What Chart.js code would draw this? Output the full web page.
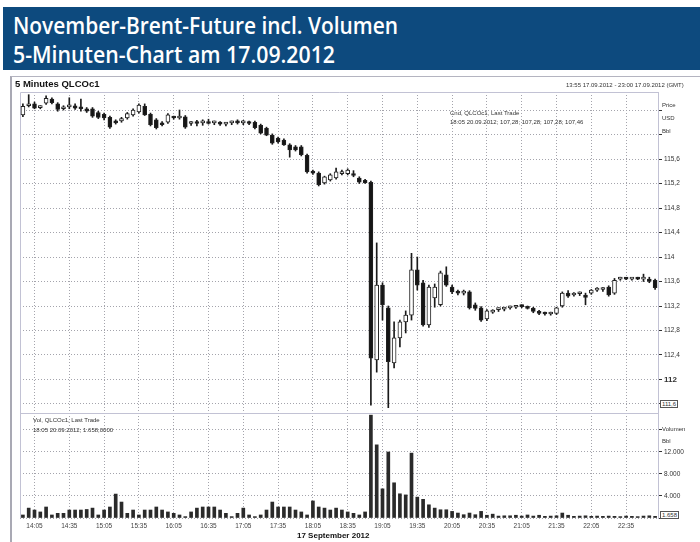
<!DOCTYPE html>
<html><head><meta charset="utf-8">
<script src="https://cdn.jsdelivr.net/npm/chart.js@4"></script>
<style>
html,body{margin:0;padding:0;}
body{width:700px;height:542px;overflow:hidden;background:#fff;position:relative;font-family:"Liberation Sans",Arial,sans-serif;color:#222;}
#hdr{position:absolute;left:3px;top:7px;width:697px;height:63px;background:#0d4a7e;}
.h{position:absolute;left:13px;color:#fff;font-family:"Open Sans",sans-serif;font-weight:600;font-size:24px;line-height:24px;white-space:nowrap;transform-origin:0 0;}
#frame{position:absolute;left:10px;top:76px;width:690px;height:466px;border-left:2px solid #a9a9b4;border-top:1px solid #b4b4c0;}
#c{position:absolute;left:0;top:72px;}
.t{position:absolute;white-space:nowrap;line-height:1;}
.s{font-size:6px;color:#333;}
.box{border:1px solid #555;padding:0 1px;background:#fff;}
</style></head>
<body>
<div id="hdr"></div>
<div class="h" id="h1" style="top:13px">November-Brent-Future incl. Volumen</div>
<div class="h" id="h2" style="top:42px">5-Minuten-Chart am 17.09.2012</div>
<div id="frame"></div>
<canvas id="c" width="700" height="470"></canvas>
<div class="t" style="left:15px;top:79px;font-size:9.5px;font-weight:bold;color:#111">5 Minutes QLCOc1</div>
<div class="t s" style="left:566px;top:82px">13:55 17.09.2012 - 23:00 17.09.2012 (GMT)</div>
<div class="t s" style="left:450px;top:110px">Cnd, QLCOc1, Last Trade</div>
<div class="t s" style="left:450px;top:119px">18:05 20.09.2012; 107,28; 107,28; 107,28; 107,46</div>
<div class="t s" style="left:662px;top:102px">Price</div>
<div class="t s" style="left:662px;top:115px">USD</div>
<div class="t s" style="left:662px;top:128px">Bbl</div>
<div class="t s box" style="left:660px;top:400px">111,6</div>
<div class="t s" style="left:33px;top:417px">Vol, QLCOc1, Last Trade</div>
<div class="t s" style="left:33px;top:427px">18:05 20.09.2012; 1.658,0000</div>
<div class="t s" style="left:662px;top:426px">Volumen</div>
<div class="t s" style="left:662px;top:438px">Bbl</div>
<div class="t s box" style="left:660px;top:511px">1.658</div>
<div class="t" id="date" style="left:297px;top:532px;font-size:8px;font-weight:bold;color:#111">17 September 2012</div>
<script>
const times = ["13:55","14:00","14:05","14:10","14:15","14:20","14:25","14:30","14:35","14:40","14:45","14:50","14:55",
"15:00","15:05","15:10","15:15","15:20","15:25","15:30","15:35","15:40","15:45","15:50","15:55",
"16:00","16:05","16:10","16:15","16:20","16:25","16:30","16:35","16:40","16:45","16:50","16:55",
"17:00","17:05","17:10","17:15","17:20","17:25","17:30","17:35","17:40","17:45","17:50","17:55",
"18:00","18:05","18:10","18:15","18:20","18:25","18:30","18:35","18:40","18:45","18:50","18:55",
"19:00","19:05","19:10","19:15","19:20","19:25","19:30","19:35","19:40","19:45","19:50","19:55",
"20:00","20:05","20:10","20:15","20:20","20:25","20:30","20:35","20:40","20:45","20:50","20:55",
"21:00","21:05","21:10","21:15","21:20","21:25","21:30","21:35","21:40","21:45","21:50","21:55",
"22:00","22:05","22:10","22:15","22:20","22:25","22:30","22:35","22:40","22:45","22:50","22:55","23:00"];

const opens = [116.32,116.47,116.50,116.44,116.51,116.58,116.50,116.42,116.45,116.47,
116.44,116.42,116.42,116.36,116.33,116.28,116.20,116.22,116.27,116.32,
116.37,116.46,116.33,116.24,116.18,116.20,116.28,116.27,116.29,116.18,
116.20,116.19,116.20,116.19,116.18,116.17,116.19,116.20,116.19,116.20,
116.20,116.15,116.10,115.99,115.94,115.91,115.83,115.80,115.80,115.66,
115.39,115.37,115.21,115.26,115.29,115.36,115.36,115.35,115.29,115.25,
115.22,112.32,113.54,113.17,112.27,112.68,112.94,113.05,113.79,113.58,
112.89,113.33,113.22,113.71,113.51,113.43,113.41,113.43,113.22,113.17,
112.99,113.10,113.14,113.15,113.17,113.18,113.20,113.18,113.16,113.11,
113.08,113.07,113.08,113.20,113.41,113.38,113.40,113.38,113.41,113.46,
113.47,113.51,113.41,113.64,113.65,113.64,113.65,113.64,113.64,113.62];
const highs = [116.50,116.65,116.53,116.47,116.63,116.60,116.52,116.47,116.60,116.50,
116.58,116.44,116.44,116.38,116.35,116.30,116.24,116.28,116.36,116.42,
116.50,116.50,116.35,116.26,116.21,116.34,116.30,116.40,116.31,116.21,
116.23,116.24,116.25,116.22,116.21,116.20,116.22,116.24,116.23,116.22,
116.22,116.17,116.12,116.01,115.96,115.93,115.85,115.82,115.82,115.68,
115.42,115.39,115.32,115.36,115.45,115.42,115.44,115.41,115.31,115.27,
115.24,114.23,113.58,113.20,112.94,112.97,113.12,114.06,114.00,113.62,
113.54,113.56,113.77,113.84,113.54,113.46,113.46,113.45,113.25,113.19,
113.14,113.14,113.17,113.18,113.20,113.21,113.22,113.20,113.18,113.13,
113.10,113.10,113.18,113.43,113.45,113.42,113.43,113.41,113.47,113.50,
113.50,113.53,113.65,113.67,113.67,113.66,113.67,113.72,113.67,113.64];
const lows = [116.29,116.45,116.42,116.42,116.49,116.50,116.38,116.40,116.42,116.41,
116.38,116.36,116.28,116.26,116.24,116.10,116.17,116.20,116.25,116.30,
116.35,116.31,116.14,116.09,116.14,116.18,116.25,116.25,116.10,116.15,
116.14,116.15,116.17,116.16,116.15,116.14,116.16,116.17,116.16,116.16,
116.09,116.01,115.98,115.84,115.86,115.82,115.63,115.73,115.65,115.37,
115.35,115.16,115.19,115.24,115.27,115.34,115.34,115.31,115.20,115.20,
111.58,112.12,112.97,111.54,112.19,112.53,112.76,112.97,113.46,112.87,
112.85,113.18,113.20,113.52,113.40,113.38,113.38,113.15,113.13,112.95,
112.96,113.08,113.11,113.12,113.15,113.16,113.17,113.15,113.09,113.06,
113.05,113.05,113.06,113.18,113.34,113.36,113.37,113.22,113.39,113.44,
113.44,113.36,113.39,113.62,113.63,113.62,113.63,113.60,113.58,113.47];
const closes = [116.46,116.50,116.43,116.45,116.59,116.52,116.41,116.44,116.47,116.43,
116.42,116.38,116.30,116.28,116.27,116.12,116.19,116.26,116.34,116.40,
116.48,116.32,116.16,116.11,116.16,116.32,116.27,116.29,116.12,116.20,
116.18,116.20,116.18,116.20,116.17,116.18,116.20,116.19,116.21,116.18,
116.11,116.02,115.99,115.86,115.88,115.83,115.75,115.75,115.67,115.39,
115.37,115.18,115.31,115.34,115.39,115.39,115.42,115.33,115.22,115.21,
112.35,113.54,113.22,112.29,112.68,112.94,113.05,113.79,113.54,112.89,
113.51,113.51,113.74,113.54,113.43,113.41,113.43,113.17,113.16,112.97,
113.12,113.12,113.16,113.16,113.18,113.20,113.19,113.16,113.11,113.08,
113.07,113.08,113.17,113.41,113.36,113.40,113.41,113.34,113.46,113.48,
113.49,113.38,113.62,113.65,113.64,113.65,113.64,113.66,113.60,113.50];
const volumes = [550,1800,1450,1100,2000,550,850,850,1450,1450,
1450,1550,1800,550,1450,2000,4350,2900,850,1450,
550,1450,1450,2000,1450,1100,850,550,250,1100,
1800,2000,2000,2000,1450,850,250,850,1800,550,
250,550,1450,2900,2000,2000,2000,1450,1100,550,
3100,2000,1800,1450,1800,1450,1100,850,550,1100,
18700,13300,5300,12000,6400,4400,4200,11800,3800,3400,
2400,1800,1500,1500,1200,900,600,900,600,1200,
500,700,350,400,400,500,350,550,350,500,
300,350,400,900,500,300,350,400,300,350,
300,350,300,250,350,300,250,350,400,300];

const xTickLabels = ["14:05","14:35","15:05","15:35","16:05","16:35","17:05","17:35","18:05","18:35","19:05","19:35","20:05","20:35","21:05","21:35","22:05","22:35"];
const priceTicks = [111.6,112,112.4,112.8,113.2,113.6,114,114.4,114.8,115.2,115.6,116,116.4];
const priceLabelsShown = [112,112.4,112.8,113.2,113.6,114,114.4,114.8,115.2,115.6];
const volumeTicks = [0,4000,8000,12000,16000];
const volumeLabelsShown = [4000,8000,12000];

const fmtPrice = v => v.toFixed(1).replace('.', ',').replace(/,0$/, '');
const fmtVol = v => String(v).replace(/(\d)(?=(\d{3})+$)/g, '$1.');

const gridCol = '#a4a4ac';
const framePlugin = {
  id: 'frame',
  beforeDatasetsDraw(chart) {
    const {ctx, chartArea: a, scales} = chart;
    ctx.save();
    ctx.strokeStyle = '#c2c2d4';
    ctx.lineWidth = 1;
    ctx.beginPath();
    ctx.moveTo(a.left + 0.5, a.bottom);
    ctx.lineTo(a.left + 0.5, a.top + 0.5);
    ctx.lineTo(a.right, a.top + 0.5);
    ctx.moveTo(a.left, Math.round(scales.y.bottom) + 0.5);
    ctx.lineTo(a.right, Math.round(scales.y.bottom) + 0.5);
    ctx.stroke();
    ctx.restore();
  }
};

new Chart(document.getElementById('c'), {
  type: 'bar',
  data: {
    labels: times,
    datasets: [
      { label: 'Wick', yAxisID: 'y', data: lows.map((l, i) => [l, highs[i]]),
        backgroundColor: '#1a1a1a', barThickness: 1, grouped: false, order: 3, minBarLength: 1 },
      { label: 'Body', yAxisID: 'y', data: opens.map((o, i) => [Math.min(o, closes[i]), Math.max(o, closes[i])]),
        backgroundColor: opens.map((o, i) => closes[i] >= o ? '#ffffff' : '#151515'),
        borderColor: '#222', borderWidth: 1, borderSkipped: false, barThickness: 4,
        minBarLength: 2, grouped: false, order: 2 },
      { label: 'Volumen', yAxisID: 'v', data: volumes,
        backgroundColor: '#2a2a2a', barThickness: 3, grouped: false, order: 1 }
    ]
  },
  options: {
    responsive: false,
    animation: false,
    events: [],
    layout: { padding: { left: 20, top: 20, right: 0, bottom: 0 } },
    plugins: { legend: { display: false }, tooltip: { enabled: false } },
    scales: {
      x: {
        type: 'category', offset: true,
        grid: { offset: false, drawTicks: false, lineWidth: 1,
          color: ctx => xTickLabels.includes(times[ctx.index]) ? gridCol : 'rgba(0,0,0,0)' },
        border: { display: false, dash: [1, 2] },
        ticks: { autoSkip: false, maxRotation: 0, padding: 4, color: '#444',
          font: { size: 6.5, family: 'Liberation Sans' },
          callback: (v, i) => xTickLabels.includes(times[i]) ? times[i] : '' },
        afterFit: s => { s.height = 24; }
      },
      y: {
        type: 'linear', position: 'right', stack: 'right', stackWeight: 321,
        min: 111.453, max: 116.694,
        afterBuildTicks: s => { s.ticks = priceTicks.map(v => ({ value: v })); },
        grid: { color: gridCol, lineWidth: 1, tickLength: 4, tickColor: '#333', tickBorderDash: [] },
        border: { display: true, color: '#c2c2d4', dash: [1, 2] },
        ticks: { padding: 2, color: '#333',
          font: ctx => ({ size: ctx.tick && ctx.tick.value === 112 ? 8 : 6.5, weight: ctx.tick && ctx.tick.value === 112 ? 'bold' : 'normal', family: 'Liberation Sans' }),
          callback: v => priceLabelsShown.some(p => Math.abs(p - v) < 1e-6) ? fmtPrice(v) : '' },
        afterFit: s => { s.width = 42; }
      },
      v: {
        type: 'linear', position: 'right', stack: 'right', stackWeight: 105,
        min: 0, max: 19090,
        afterBuildTicks: s => { s.ticks = volumeTicks.map(v => ({ value: v })); },
        grid: { color: gridCol, lineWidth: 1, tickLength: 4, tickColor: '#333', tickBorderDash: [] },
        border: { display: true, color: '#c2c2d4', dash: [1, 2] },
        ticks: { padding: 2, color: '#333', font: { size: 6.5, family: 'Liberation Sans' },
          callback: v => volumeLabelsShown.includes(v) ? fmtVol(v) : '' },
        afterFit: s => { s.width = 42; }
      }
    }
  },
  plugins: [framePlugin]
});

function fit(id, w) {
  const el = document.getElementById(id);
  const r = el.getBoundingClientRect().width;
  if (r > 0) el.style.transform = 'scaleX(' + (w / r) + ')';
}
fit('h1', 385);
fit('h2', 322);
</script>
</body></html>
